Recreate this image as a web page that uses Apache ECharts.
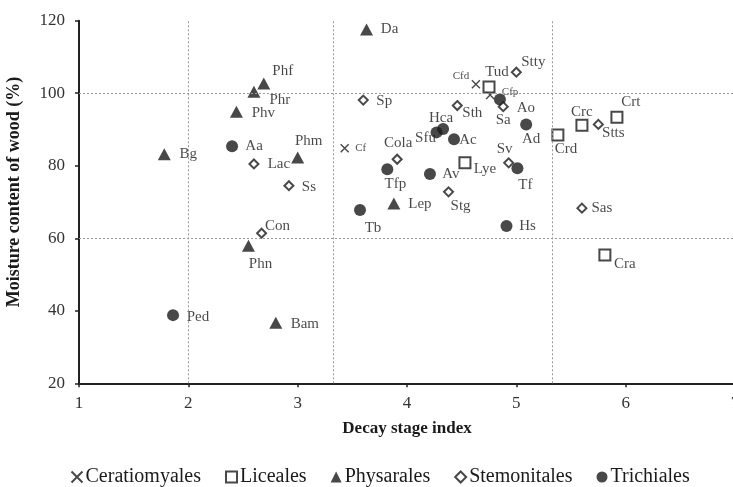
<!DOCTYPE html>
<html><head><meta charset="utf-8">
<script src="https://cdn.jsdelivr.net/npm/echarts@6/dist/echarts.min.js"></script>
<style>html,body{margin:0;padding:0;background:#fff}#c{width:733px;height:487px}</style>
</head><body><div id="c"></div>
<script>
// x, y, label
const ceratiomyales = [[3.43,84.8,'Cf'],[4.63,102.5,'Cfd'],[4.76,99.5,'Cfp']];
const liceales = [[4.75,101.7,'Tud'],[4.53,80.8,'Lye'],[5.38,88.5,'Crd'],[5.60,91.2,'Crc'],[5.92,93.4,'Crt'],[5.81,55.4,'Cra']];
const physarales = [[3.63,117.6,'Da'],[2.69,102.7,'Phf'],[2.60,100.4,'Phr'],[2.44,94.9,'Phv'],[3.00,82.3,'Phm'],[1.78,83.2,'Bg'],[2.55,57.9,'Phn'],[2.80,36.7,'Bam'],[3.88,69.6,'Lep']];
const stemonitales = [[2.60,80.5,'Lac'],[2.92,74.5,'Ss'],[2.67,61.4,'Con'],[3.60,98.1,'Sp'],[3.91,81.8,'Cola'],[4.38,72.8,'Stg'],[4.46,96.6,'Sth'],[4.88,96.3,'Sa'],[5.00,105.8,'Stty'],[4.93,80.8,'Sv'],[5.75,91.4,'Stts'],[5.60,68.3,'Sas']];
const trichiales = [[2.40,85.4,'Aa'],[1.86,38.8,'Ped'],[4.33,90.1,'Hca'],[4.27,89.2,'Sfu'],[4.43,87.3,'Ac'],[3.82,79.0,'Tfp'],[4.21,77.7,'Av'],[3.57,67.8,'Tb'],[4.85,98.3,'Ao'],[5.09,91.4,'Ad'],[5.01,79.3,'Tf'],[4.91,63.4,'Hs']];
const seriesNames = ['Ceratiomyales','Liceales','Physarales','Stemonitales','Trichiales'];
const vLines = [2, 3.33, 5.33];
const hLines = [60, 100];

// label placement (text centre relative to marker centre, px)
const labelOffsets = {
  Cf:[16,0],Cfd:[-15,-8],Cfp:[20,-3],
  Tud:[8,-15],Lye:[20,6],Crd:[8,14],Crc:[0,-13],Crt:[14,-15],Cra:[20,9],
  Da:[23,0],Phf:[19,-12],Phr:[26,8],Phv:[27,1],Phm:[11,-16],Bg:[24,0],Phn:[12,18],Bam:[29,1],Lep:[26,1],
  Lac:[25,0],Ss:[20,1],Con:[16,-7],Sp:[21,1],Cola:[1,-16],Stg:[12,14],Sth:[15,8],Sa:[0,13],Stty:[17,-10],Sv:[-4,-14],Stts:[15,9],Sas:[20,0],
  Aa:[22,0],Ped:[25,2],Hca:[-2,-11],Sfu:[-11,6],Ac:[14,1],Tfp:[8,15],Av:[21,0],Tb:[13,18],Ao:[26,9],Ad:[5,15],Tf:[8,17],Hs:[21,0]
};

const FONT = 'Liberation Serif';
const INK = '#1a1a1a';

function items(arr){
  return arr.map(d => ({value:[d[0], d[1]], name:d[2], label:{offset: labelOffsets[d[2]] || [20,0]}}));
}
function baseLabel(size){
  return {show:true, position:'inside', formatter: p => p.name, color:INK, fontFamily:FONT, fontSize:size};
}

const chart = echarts.init(document.getElementById('c'), null, {renderer:'canvas'});
chart.setOption({
  animation:false,
  backgroundColor:'#fff',
  grid:{left:79, top:20.7, width:656, height:362.6, containLabel:false, outerBoundsMode:'none'},
  xAxis:{
    type:'value', min:1, max:7, interval:1,
    name:'Decay stage index', nameLocation:'middle', nameGap:37,
    nameTextStyle:{fontFamily:FONT, fontWeight:'bold', fontSize:17, color:INK},
    axisLine:{show:true, onZero:false, lineStyle:{color:'#222', width:2}},
    axisTick:{show:true, length:4, lineStyle:{color:'#222', width:1.5}},
    axisLabel:{fontFamily:FONT, fontSize:17, color:'#333', margin:12, showMaxLabel:true},
    splitLine:{show:false}
  },
  yAxis:{
    type:'value', min:20, max:120, interval:20,
    name:'Moisture content of wood (%)', nameLocation:'middle', nameGap:56,
    nameTextStyle:{fontFamily:FONT, fontWeight:'bold', fontSize:18, color:INK, padding:[0,0,0,20]},
    axisLine:{show:true, onZero:false, lineStyle:{color:'#222', width:2}},
    axisTick:{show:true, length:4, lineStyle:{color:'#222', width:1.5}},
    axisLabel:{fontFamily:FONT, fontSize:17, color:'#333', margin:14},
    splitLine:{show:false}
  },
  legend:{
    left:64, top:462, itemWidth:11, itemHeight:11, itemGap:24,
    textStyle:{fontFamily:FONT, fontSize:20, color:INK, padding:[0,0,0,-2]},
    data: seriesNames
  },
  series:[
    {name:seriesNames[0], type:'scatter', z:4,
     symbol:'path://M0,0L10,10M10,0L0,10', symbolSize:8,
     itemStyle:{color:'none', borderColor:INK, borderWidth:1.4},
     label:baseLabel(11), data:items(ceratiomyales),
     markLine:{silent:true, symbol:'none', label:{show:false},
       lineStyle:{color:'#999', type:[2,2], width:1},
       data: vLines.map(v=>({xAxis:v})).concat(hLines.map(v=>({yAxis:v})))}
    },
    {name:seriesNames[1], type:'scatter', z:4, symbol:'rect', symbolSize:11,
     itemStyle:{color:'#fff', borderColor:INK, borderWidth:2},
     label:baseLabel(15), data:items(liceales)},
    {name:seriesNames[2], type:'scatter', z:4, symbol:'triangle', symbolSize:[13,12],
     itemStyle:{color:INK},
     label:baseLabel(15), data:items(physarales)},
    {name:seriesNames[3], type:'scatter', z:5, symbol:'diamond', symbolSize:9,
     itemStyle:{color:'#fff', borderColor:INK, borderWidth:2},
     label:baseLabel(15), data:items(stemonitales)},
    {name:seriesNames[4], type:'scatter', z:3, symbol:'circle', symbolSize:12,
     itemStyle:{color:INK},
     label:baseLabel(15), data:items(trichiales)}
  ]
});
</script>
</body></html>
